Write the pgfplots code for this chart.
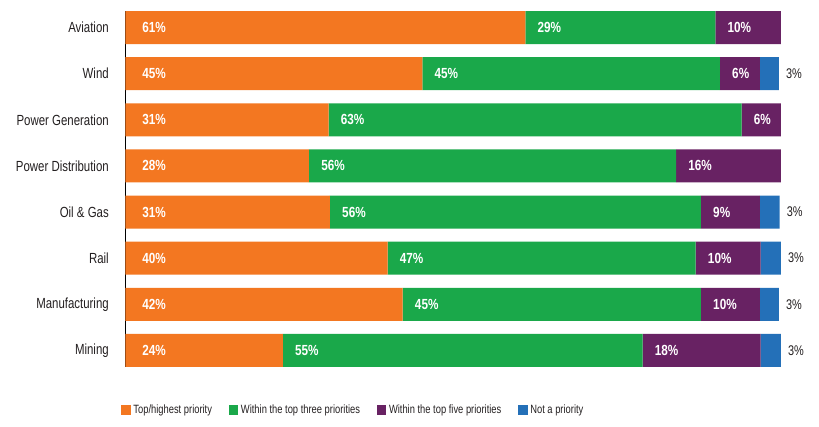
\documentclass[border=0pt]{standalone}
\usepackage{pgfplots}
\pgfplotsset{compat=1.18}
\usepackage{pgfplotstable}
\usepackage{fontspec}
\setmainfont{Liberation Sans}[FakeStretch=0.80]
\newfontfamily\narrowlab{Liberation Sans}[FakeStretch=0.78]
\definecolor{cOr}{HTML}{F37721}
\definecolor{cGr}{HTML}{1AA84A}
\definecolor{cPu}{HTML}{682263}
\definecolor{cBl}{HTML}{2470B8}
\definecolor{cTx}{HTML}{231F20}

% segment widths (percent) as drawn
\pgfplotstableread{
y top three five not
0 61.0 29.0 10.0 0
1 45.3 45.4 6.1 2.9
2 31.0 63.0 6.0 0
3 28.0 56.0 16.0 0
4 31.2 56.6 9.0 3.0
5 40.0 47.0 9.9 3.1
6 42.3 45.5 9.0 2.9
7 24.0 54.9 18.0 3.1
}\datatab

\pgfplotsset{
  geom/.style={anchor=south west, at={(0,0)},
    scale only axis, width=491.6pt, height=267pt,
    xmin=0, xmax=100, ymin=-0.36, ymax=7.36, y dir=reverse},
  inlab/.style={draw=none, mark=none, nodes near coords, point meta=explicit symbolic,
    nodes near coords style={anchor=west, inner sep=0pt, xshift=#1, text=white,
      font=\bfseries\fontsize{11}{12}\selectfont}},
}

\begin{document}
\begin{tikzpicture}
\useasboundingbox (-94.1pt,-44.25pt) rectangle (520.15pt,275.25pt);
\begin{axis}[
  geom,
  xbar stacked, bar width=24.75pt,
  axis x line=none, axis y line*=left,
  y axis line style={line width=1.3pt, black, -},
  ytick={0,...,7},
  yticklabels={Aviation, Wind, Power Generation, Power Distribution, {Oil \& Gas}, Rail, Manufacturing, Mining},
  major tick length=0pt,
  yticklabel style={font=\narrowlab\fontsize{11}{12}\selectfont, text=cTx, xshift=-9pt},
  legend columns=4,
  legend style={at={(axis description cs:0,0)}, anchor=west, xshift=-3.4pt, yshift=-32.25pt,
    draw=none, fill=none, inner sep=0pt, font=\narrowlab\fontsize{9}{10}\selectfont, text=cTx,
    /tikz/every even column/.append style={column sep=10.5pt}},
  legend image code/.code={\fill[#1] (0pt,-3.6pt) rectangle (7.2pt,3.6pt);},
]
\addplot[fill=cOr, draw=none] table[x=top, y=y]{\datatab};
\addlegendentry{Top/highest priority}
\addplot[fill=cGr, draw=none] table[x=three, y=y]{\datatab};
\addlegendentry{Within the top three priorities}
\addplot[fill=cPu, draw=none] table[x=five, y=y]{\datatab};
\addlegendentry{Within the top five priorities\hspace{5pt}}
\addplot[fill=cBl, draw=none] table[x=not, y=y]{\datatab};
\addlegendentry{Not a priority}
\end{axis}
\begin{axis}[geom, hide axis, clip=false]
\addplot[inlab=12.5pt] coordinates {(0,0)[61\%] (0,1)[45\%] (0,2)[31\%] (0,3)[28\%] (0,4)[31\%] (0,5)[40\%] (0,6)[42\%] (0,7)[24\%]};
\addplot[inlab=9pt] coordinates {(61,0)[29\%] (45.3,1)[45\%] (31,2)[63\%] (28,3)[56\%] (31.2,4)[56\%] (40,5)[47\%] (42.3,6)[45\%] (24,7)[55\%]};
\addplot[inlab=9pt] coordinates {(90,0)[10\%] (90.7,1)[6\%] (94,2)[6\%] (84,3)[16\%] (87.8,4)[9\%] (87,5)[10\%] (87.8,6)[10\%] (78.9,7)[18\%]};
\addplot[draw=none, mark=none, nodes near coords, point meta=explicit symbolic,
  nodes near coords style={anchor=west, inner sep=0pt, xshift=5.2pt, text=cTx, font=\narrowlab\fontsize{10.5}{11}\selectfont}]
  coordinates {(99.7,1)[3\%] (99.8,4)[3\%] (100,5)[3\%] (99.7,6)[3\%] (100,7)[3\%]};
\end{axis}
\end{tikzpicture}
\end{document}
